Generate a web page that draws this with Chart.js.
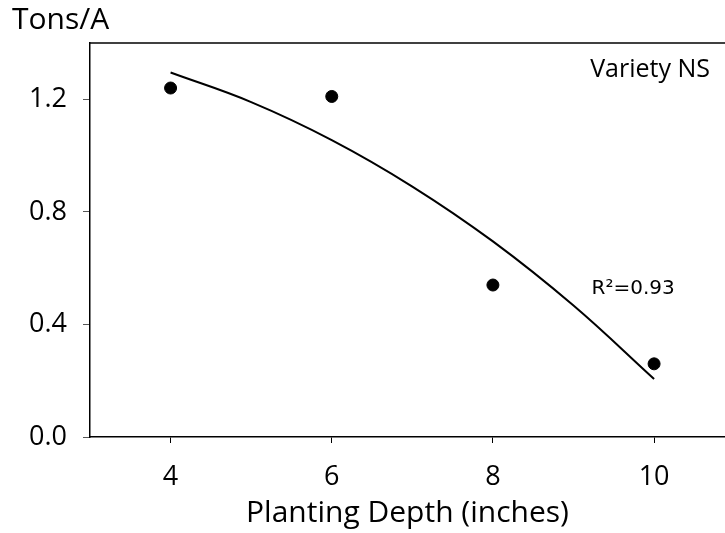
<!DOCTYPE html>
<html>
<head>
<meta charset="utf-8">
<script src="https://cdn.jsdelivr.net/npm/chart.js@4.4.1/dist/chart.umd.min.js"></script>
<style>
  html, body { margin: 0; padding: 0; background: #fff; }
  #chart { display: block; }
</style>
</head>
<body>
<canvas id="chart" width="725" height="533"></canvas>
<script>
// measured yield by planting depth
const depths = [4, 6, 8, 10];
const yields = [1.24, 1.21, 0.54, 0.26];

// quadratic trend line
const fitDepths = [4, 5, 6, 7, 8, 9, 10];
const fitYields = [1.295, 1.19, 1.055, 0.89, 0.695, 0.467, 0.206];

const xTicks = [4, 6, 8, 10];
const yTicks = [0, 0.4, 0.8, 1.2];

const FONT = '"Comic Sans MS", "Open Sans", sans-serif';

// text labels placed in data coordinates
const notes = [
    { text: 'Variety NS', x: 9.95, y: 1.305, size: 25, family: FONT },
    { text: 'R\u00B2=0.93', x: 9.74, y: 0.525, size: 20, family: '"DejaVu Sans", sans-serif' }
];

const framePlugin = {
    id: 'frame',
    afterDraw(chart) {
        const { ctx, chartArea, scales } = chart;
        ctx.save();
        // top border of the plot box
        ctx.strokeStyle = '#000';
        ctx.lineWidth = 1.5;
        ctx.beginPath();
        ctx.moveTo(chartArea.left, chartArea.top);
        ctx.lineTo(chart.width, chartArea.top);
        ctx.stroke();

        // unit label top left
        ctx.fillStyle = '#000';
        ctx.font = `30px ${FONT}`;
        ctx.textAlign = 'left';
        ctx.textBaseline = 'middle';
        ctx.fillText('Tons/A', 12, 20);

        // notes inside the plot
        ctx.textAlign = 'center';
        notes.forEach(n => {
            ctx.font = `${n.size}px ${n.family}`;
            ctx.fillText(n.text, scales.x.getPixelForValue(n.x), scales.y.getPixelForValue(n.y));
        });
        ctx.restore();
    }
};

new Chart(document.getElementById('chart'), {
    type: 'scatter',
    data: {
        datasets: [
            {
                label: 'Yield',
                data: depths.map((d, i) => ({ x: d, y: yields[i] })),
                backgroundColor: '#000',
                borderColor: '#000',
                pointRadius: 6,
                pointHoverRadius: 6
            },
            {
                label: 'Trend',
                data: fitDepths.map((d, i) => ({ x: d, y: fitYields[i] })),
                showLine: true,
                borderColor: '#000',
                borderWidth: 2,
                pointRadius: 0,
                tension: 0.4
            }
        ]
    },
    options: {
        responsive: false,
        animation: false,
        devicePixelRatio: 1,
        layout: { autoPadding: false, padding: { top: 43, left: 0, right: 0, bottom: 0 } },
        plugins: {
            legend: { display: false },
            tooltip: { enabled: false }
        },
        scales: {
            x: {
                type: 'linear',
                min: 3,
                max: 10.88,
                afterBuildTicks: s => { s.ticks = xTicks.map(v => ({ value: v })); },
                afterFit: s => { s.height = 96; },
                grid: { drawOnChartArea: false, tickLength: 6, color: '#000' },
                border: { color: '#000', width: 1.5 },
                ticks: { color: '#000', padding: 18, font: { family: FONT, size: 27 } },
                title: {
                    display: true,
                    text: 'Planting Depth (inches)',
                    color: '#000',
                    font: { family: FONT, size: 30 },
                    padding: { top: 0, bottom: 2 }
                }
            },
            y: {
                type: 'linear',
                min: 0,
                max: 1.4,
                afterBuildTicks: s => { s.ticks = yTicks.map(v => ({ value: v })); },
                afterFit: s => { s.width = 90; },
                grid: { drawOnChartArea: false, tickLength: 7, color: '#555' },
                border: { color: '#000', width: 1.5 },
                ticks: {
                    color: '#000',
                    padding: 16,
                    font: { family: FONT, size: 27 },
                    callback: v => v.toFixed(1)
                }
            }
        }
    },
    plugins: [framePlugin]
});
</script>
</body>
</html>
